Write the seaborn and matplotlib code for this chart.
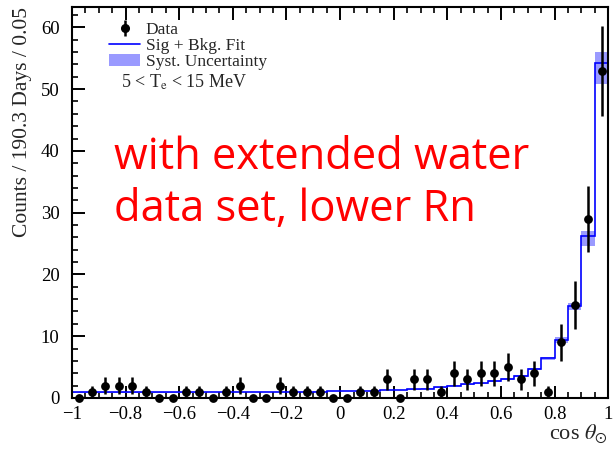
import numpy as np
import matplotlib
matplotlib.use("Agg")
import matplotlib.pyplot as plt
import seaborn as sns
import pandas as pd
from matplotlib.lines import Line2D
from matplotlib.patches import Patch
from matplotlib.ticker import MultipleLocator

# 40 bins of width 0.05 in cos(theta_sun)
bin_edges = np.round(np.linspace(-1.0, 1.0, 41), 3)
bin_centers = 0.5 * (bin_edges[:-1] + bin_edges[1:])

# Observed counts per bin
data_counts = [0, 1, 2, 2, 2, 1, 0, 0, 1, 1,
               0, 1, 2, 0, 0, 2, 1, 1, 1, 0,
               0, 1, 1, 3, 0, 3, 3, 1, 4, 3,
               4, 4, 5, 3, 4, 1, 9, 15, 29, 53]

# Signal + background fit per bin
fit_counts = [0.90, 0.90, 0.90, 0.90, 0.90, 0.90, 0.90, 0.90, 0.90, 0.90,
              0.92, 0.92, 0.92, 0.92, 0.95, 0.97, 0.99, 1.01, 1.04, 1.07,
              1.10, 1.14, 1.19, 1.25, 1.32, 1.40, 1.50, 1.70, 2.00, 2.20,
              2.40, 2.75, 3.07, 3.56, 4.70, 6.40, 9.40, 14.9, 26.3, 54.3]

# Systematic uncertainty band edges per bin
syst_low = [0.88, 0.88, 0.88, 0.88, 0.88, 0.88, 0.88, 0.88, 0.88, 0.88,
            0.90, 0.90, 0.90, 0.90, 0.93, 0.95, 0.97, 0.99, 1.02, 1.05,
            1.08, 1.12, 1.17, 1.22, 1.29, 1.37, 1.46, 1.66, 1.95, 2.14,
            2.33, 2.66, 2.96, 3.42, 4.50, 6.10, 8.90, 14.2, 24.6, 50.8]
syst_high = [0.92, 0.92, 0.92, 0.92, 0.92, 0.92, 0.92, 0.92, 0.92, 0.92,
             0.94, 0.94, 0.94, 0.94, 0.97, 0.99, 1.01, 1.03, 1.06, 1.09,
             1.12, 1.16, 1.21, 1.28, 1.35, 1.43, 1.54, 1.74, 2.05, 2.26,
             2.47, 2.84, 3.18, 3.70, 4.90, 6.70, 9.80, 15.3, 27.0, 56.0]

x_ticks = [-1, -0.8, -0.6, -0.4, -0.2, 0, 0.2, 0.4, 0.6, 0.8, 1]
x_tick_labels = ["\u22121", "\u22120.8", "\u22120.6", "\u22120.4", "\u22120.2",
                 "0", "0.2", "0.4", "0.6", "0.8", "1"]
y_ticks = [0, 10, 20, 30, 40, 50, 60]

df = pd.DataFrame({"cos": bin_centers, "counts": data_counts})
df["err"] = np.sqrt(df["counts"])

sns.set_theme(style="ticks")
plt.rcParams["font.family"] = ["Liberation Serif", "DejaVu Serif"]
plt.rcParams["mathtext.fontset"] = "stix"

fig = plt.figure(figsize=(6.15, 4.5), dpi=100)
ax = fig.add_axes([0.117, 0.1156, 0.872, 0.869])

band_color = "#9a9aff"
fit_color = "#0000ff"

# systematic band
low = np.array(syst_low)
high = np.array(syst_high)
ax.bar(bin_centers, high - low, bottom=low, width=0.05, color=band_color,
       linewidth=0, zorder=1)

# fit histogram
ax.stairs(fit_counts, bin_edges, baseline=0, color=fit_color, linewidth=1.2,
          zorder=2)

# data points with Poisson errors
ax.errorbar(df["cos"], df["counts"], yerr=df["err"], fmt="none",
            ecolor="black", elinewidth=1.8, capsize=0, zorder=3, clip_on=False)
sns.scatterplot(data=df, x="cos", y="counts", ax=ax, color="black", s=40,
                linewidth=0, zorder=4, clip_on=False)

ax.set_xlim(-1, 1)
ax.set_ylim(0, 63.3)
ax.set_xticks(x_ticks)
ax.set_xticklabels(x_tick_labels)
ax.set_yticks(y_ticks)
ax.xaxis.set_minor_locator(MultipleLocator(0.05))
ax.yaxis.set_minor_locator(MultipleLocator(2))
ax.tick_params(axis="both", which="major", direction="in", length=9,
               width=1.4, labelsize=13.5, color="black", labelcolor="black")
ax.tick_params(axis="both", which="minor", direction="in", length=4.5,
               width=1.2, color="black")
ax.tick_params(axis="x", which="both", top=True, pad=6)
ax.tick_params(axis="y", which="both", right=False, pad=9)
for spine in ax.spines.values():
    spine.set_visible(True)
    spine.set_linewidth(1.5)
    spine.set_color("black")

ax.set_xlabel(r"cos $\theta_{\odot}$", fontsize=16, loc="right", labelpad=-1)
ax.set_ylabel("Counts / 190.3 Days / 0.05", fontsize=15.5, loc="top",
              labelpad=6)

data_handle = (Line2D([0], [0], marker="|", color="black", markersize=11,
                      markeredgewidth=1.8, linestyle="none"),
               Line2D([0], [0], marker="o", color="black", markersize=5.5,
                      linestyle="none"))
handles = [
    data_handle,
    Line2D([0], [0], color=fit_color, linewidth=1.2),
    Patch(facecolor=band_color, edgecolor="none"),
]
labels = ["Data", "Sig + Bkg. Fit", "Syst. Uncertainty"]
leg = ax.legend(handles, labels, loc="upper left",
                bbox_to_anchor=(0.07, 0.962), frameon=False, fontsize=12.5,
                labelspacing=0.0, handlelength=1.75, handletextpad=0.35,
                borderpad=0.0, borderaxespad=0.0)

ax.text(0.092, 0.808, r"5 < T$_{\rm e}$ < 15 MeV", transform=ax.transAxes,
        fontsize=13, ha="left", va="center")

ax.text(0.078, 0.548, "with extended water\ndata set, lower Rn",
        transform=ax.transAxes, fontsize=31.3, color="#ff0000",
        family=["Open Sans", "DejaVu Sans"], ha="left", va="center",
        linespacing=1.2)

fig.savefig("out.png", dpi=100)
